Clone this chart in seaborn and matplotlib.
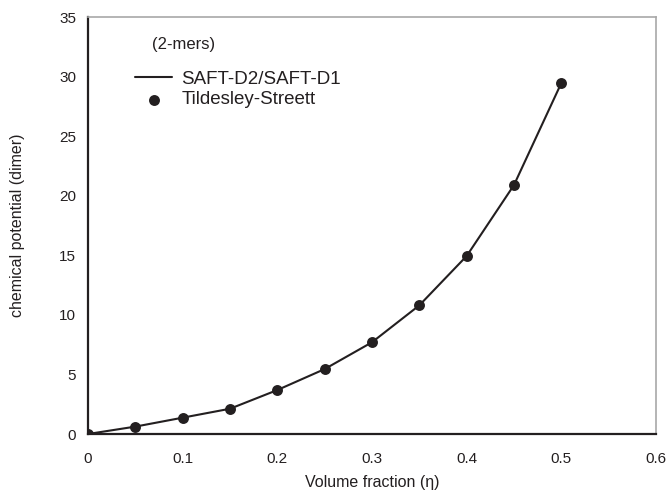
import numpy as np
import pandas as pd
import matplotlib
matplotlib.use("Agg")
import matplotlib.pyplot as plt
import seaborn as sns

# data
eta = [0.0, 0.05, 0.10, 0.15, 0.20, 0.25, 0.30, 0.35, 0.40, 0.45, 0.50]
mu_dimer = [0.0, 0.62, 1.37, 2.12, 3.69, 5.45, 7.7, 10.8, 14.94, 20.9, 29.46]
x_ticks = [0, 0.1, 0.2, 0.3, 0.4, 0.5, 0.6]
x_tick_labels = ["0", "0.1", "0.2", "0.3", "0.4", "0.5", "0.6"]
y_ticks = [0, 5, 10, 15, 20, 25, 30, 35]

df = pd.DataFrame({"eta": eta, "mu": mu_dimer})
ink = "#231f20"

sns.set_style("white")
plt.rcParams["font.family"] = ["Liberation Sans", "DejaVu Sans"]

fig = plt.figure(figsize=(6.69, 4.93), dpi=100)
ax = fig.add_axes([88 / 669, 1 - 434 / 493, 568 / 669, 417 / 493])

sns.lineplot(data=df, x="eta", y="mu", ax=ax, color=ink, linewidth=1.5,
             label="SAFT-D2/SAFT-D1")
sns.scatterplot(data=df, x="eta", y="mu", ax=ax, color=ink, s=62,
                edgecolor=ink, linewidth=0, label="Tildesley-Streett", zorder=3)

ax.set_xlim(0, 0.6)
ax.set_ylim(0, 35)
ax.set_xticks(x_ticks)
ax.set_xticklabels(x_tick_labels)
ax.set_yticks(y_ticks)
ax.tick_params(axis="both", direction="out", length=4.3, width=1.3, color=ink,
               labelsize=11, labelcolor=ink)
ax.tick_params(axis="x", pad=8.5)
ax.tick_params(axis="y", pad=4.3)

for side in ["left", "bottom"]:
    ax.spines[side].set_color(ink)
    ax.spines[side].set_linewidth(1.6)
for side in ["top", "right"]:
    ax.spines[side].set_color("#a8a8a8")
    ax.spines[side].set_linewidth(1.2)

ax.set_xlabel("Volume fraction (η)", fontsize=11.5, color=ink)
ax.set_ylabel("chemical potential (dimer)", fontsize=11.5, color=ink)
ax.xaxis.set_label_coords(0.5, -0.098)
ax.yaxis.set_label_coords(-0.111, 0.5)

ax.text(0.1127, 0.935, "(2-mers)", transform=ax.transAxes, fontsize=12,
        color=ink, ha="left", va="center")

leg = ax.legend(loc="center left", bbox_to_anchor=(0.0827, 0.826), frameon=False,
                fontsize=13.5, handlelength=2.0, handletextpad=0.48, labelspacing=0.19,
                borderpad=0, borderaxespad=0)
for t in leg.get_texts():
    t.set_color(ink)

fig.savefig("out.png", dpi=100)
